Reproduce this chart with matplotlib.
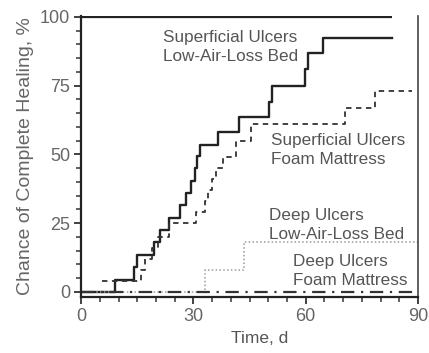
import matplotlib
matplotlib.use("Agg")
import matplotlib.pyplot as plt
from matplotlib.ticker import MultipleLocator

plt.rcParams['font.family'] = ['Liberation Sans', 'DejaVu Sans']

# Superficial ulcers, low-air-loss bed (solid)
sup_lal_days = [0, 9, 14, 15, 19.5, 21, 23.5, 26.5, 28, 29.3, 30.5, 31, 31.8, 36.5, 42.2, 50.3, 51, 59.7, 60.5, 64.5, 83]
sup_lal_pct = [0, 4.5, 9, 13.5, 18, 22.5, 27, 31.5, 36, 40.5, 45, 49.5, 53.5, 58, 63.5, 69, 75, 81, 87, 92.5, 92.5]

# Superficial ulcers, foam mattress (dashed)
sup_foam_days = [5.5, 16, 17, 19, 20.5, 23.5, 30.6, 33, 34, 35, 36, 38, 41.5, 45.5, 70.5, 78.5, 88.5]
sup_foam_pct = [4, 8, 12, 16, 20, 25, 29, 33, 37, 41, 45, 49, 55, 61, 67, 73, 73]

# Deep ulcers, low-air-loss bed (dotted)
deep_lal_days = [0, 33, 43.5, 90]
deep_lal_pct = [0, 8, 18, 18]

# Deep ulcers, foam mattress (dash-dot)
deep_foam_days = [0, 89]
deep_foam_pct = [0, 0]

ref_level = 100
ref_end = 83

x_ticks = [0, 30, 60, 90]
y_ticks = [0, 25, 50, 75, 100]

fig = plt.figure(figsize=(4.29, 3.53), dpi=100)
ax = fig.add_axes([0.189, 0.159, 0.7855, 0.797])

ax.hlines(ref_level, 0, ref_end, color='#222222', lw=1.6)
ax.step(sup_lal_days, sup_lal_pct, where='post', color='#222222', lw=1.7)
ax.step(sup_foam_days, sup_foam_pct, where='post', color='#333333', lw=1.3,
        linestyle=(0, (3, 2.5)))
ax.step(deep_lal_days, deep_lal_pct, where='post', color='#9a9a9a', lw=1.1,
        linestyle=(0, (1, 1.5)))
ax.step(deep_foam_days, deep_foam_pct, where='post', color='#333333', lw=1.6,
        linestyle=(0, (6, 3, 1, 3)))

ax.set_xlim(0, 90)
ax.set_ylim(-1.8, 100.5)
ax.set_xticks(x_ticks)
ax.set_yticks(y_ticks)
ax.xaxis.set_minor_locator(MultipleLocator(5))
ax.yaxis.set_minor_locator(MultipleLocator(5))
ax.tick_params(axis='both', which='major', direction='out', length=5, width=1.3,
               labelsize=13, labelcolor='#666666', color='#333333', pad=3)
ax.tick_params(axis='both', which='minor', direction='out', length=3.5, width=1.1,
               color='#333333')
ax.spines['top'].set_visible(False)
for s in ['left', 'bottom']:
    ax.spines[s].set_linewidth(1.6)
    ax.spines[s].set_color('#222222')
ax.spines['right'].set_linewidth(1.2)
ax.spines['right'].set_color('#444444')

ax.set_xlabel('Time, d', fontsize=12.5, color='#555555', labelpad=3)
ax.xaxis.set_label_coords(0.53, -0.12)
ax.set_ylabel('Chance of Complete Healing, %', fontsize=14, color='#666666', labelpad=4)

tc = '#555555'
fs = 12.3
ls = 1.35
ax.text(39.8, 89, 'Superficial Ulcers\nLow-Air-Loss Bed', ha='center', va='center',
        fontsize=fs, color=tc, linespacing=ls)
ax.text(50.8, 51.6, 'Superficial Ulcers\nFoam Mattress', ha='left', va='center',
        fontsize=fs, color=tc, linespacing=ls)
ax.text(50.3, 24.4, 'Deep Ulcers\nLow-Air-Loss Bed', ha='left', va='center',
        fontsize=fs, color=tc, linespacing=ls)
ax.text(56.5, 7.6, 'Deep Ulcers\nFoam Mattress', ha='left', va='center',
        fontsize=fs, color=tc, linespacing=ls)

fig.savefig('out.png', dpi=100)
